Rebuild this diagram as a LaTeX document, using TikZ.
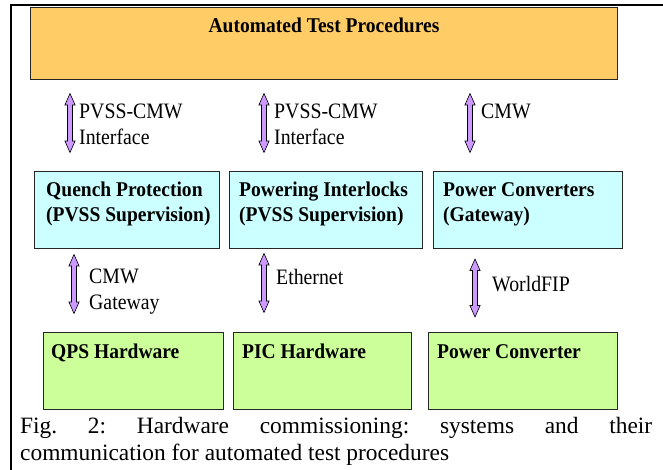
\documentclass[tikz,border=0pt]{standalone}
\usepackage{fontspec}
\setmainfont{Liberation Serif}
\newfontfamily\lblfont[FakeStretch=0.9]{Liberation Serif}
\newfontfamily\bxfont[FakeStretch=0.93]{Liberation Serif}
\usetikzlibrary{shapes.arrows}
\definecolor{orangefill}{HTML}{FFCC66}
\definecolor{cyanfill}{HTML}{CCFFFF}
\definecolor{greenfill}{HTML}{CCFF99}
\definecolor{arrowfill}{HTML}{CC99FF}
\begin{document}
\frenchspacing
\begin{tikzpicture}[x=1pt,y=-1pt,
  box/.style={draw=black!85, line width=0.8pt, anchor=north west, inner sep=0pt},
  btxt/.style={anchor=base west, inner sep=0pt, font=\bxfont\bfseries\fontsize{21}{25}\selectfont},
  ltxt/.style={anchor=base west, inner sep=0pt, font=\lblfont\fontsize{22}{26}\selectfont},
  captxt/.style={anchor=base west, inner sep=0pt, font=\fontsize{23.4}{27}\selectfont},
  darrow/.style={shape=double arrow, rotate=90, draw=black, line width=0.6pt, fill=arrowfill,
    inner xsep=0pt, inner ysep=2.2pt, minimum width=0pt, double arrow head extend=2.6pt,
    double arrow tip angle=48}
]
\useasboundingbox (0,0) rectangle (663,470);
\fill[white] (0,0) rectangle (663,470);
\draw[line width=2.5pt] (663,5) -- (11,5) -- (11,470);

% top box
\node[box, fill=orangefill, minimum width=587pt, minimum height=72pt] (atp) at (30,7) {};
\node[btxt, anchor=base] (atpt) at (324,33) {Automated Test Procedures};

% middle boxes
\node[box, fill=cyanfill, minimum width=185pt, minimum height=77pt] (qp) at (34,171) {};
\node[box, fill=cyanfill, minimum width=193pt, minimum height=77pt] (pi) at (229,171) {};
\node[box, fill=cyanfill, minimum width=189pt, minimum height=77pt] (pc) at (433,171) {};
\node[btxt] (qp1) at (46,197) {Quench Protection};
\node[btxt] (qp2) at (46,222) {(PVSS Supervision)};
\node[btxt] (pi1) at (239,197) {Powering Interlocks};
\node[btxt] (pi2) at (239,222) {(PVSS Supervision)};
\node[btxt] (pc1) at (443,197) {Power Converters};
\node[btxt] (pc2) at (443,222) {(Gateway)};

% bottom boxes
\node[box, fill=greenfill, minimum width=180pt, minimum height=77pt] (qh) at (43,332) {};
\node[box, fill=greenfill, minimum width=178pt, minimum height=77pt] (ph) at (233,332) {};
\node[box, fill=greenfill, minimum width=189pt, minimum height=77pt] (pw) at (428,332) {};
\node[btxt] (qht) at (51,358) {QPS Hardware};
\node[btxt] (pht) at (242,358) {PIC Hardware};
\node[btxt] (pwt) at (437,358) {Power Converter};

% upper arrows
\node[darrow, minimum height=59pt] (a1) at (70,123) {};
\node[darrow, minimum height=59pt] (a2) at (264,123) {};
\node[darrow, minimum height=59pt] (a3) at (470,123) {};
\node[ltxt] (l1a) at (79,119) {PVSS-CMW};
\node[ltxt] (l1b) at (79,145) {Interface};
\node[ltxt] (l2a) at (274,119) {PVSS-CMW};
\node[ltxt] (l2b) at (274,145) {Interface};
\node[ltxt] (l3a) at (481,119) {CMW};

% lower arrows
\node[darrow, minimum height=59pt] (b1) at (74,284) {};
\node[darrow, minimum height=59pt] (b2) at (264,283) {};
\node[darrow, minimum height=58pt] (b3) at (475,288) {};
\node[ltxt] (m1a) at (89,283) {CMW};
\node[ltxt] (m1b) at (89,309) {Gateway};
\node[ltxt] (m2a) at (276,284) {Ethernet};
\node[ltxt] (m3a) at (492,291) {WorldFIP};

% caption
\node[captxt] (cap1) at (20,433) {\makebox[632pt][s]{Fig. 2: Hardware commissioning: systems and their}};
\node[captxt] (cap2) at (20,460) {communication for automated test procedures};
\end{tikzpicture}
\end{document}
